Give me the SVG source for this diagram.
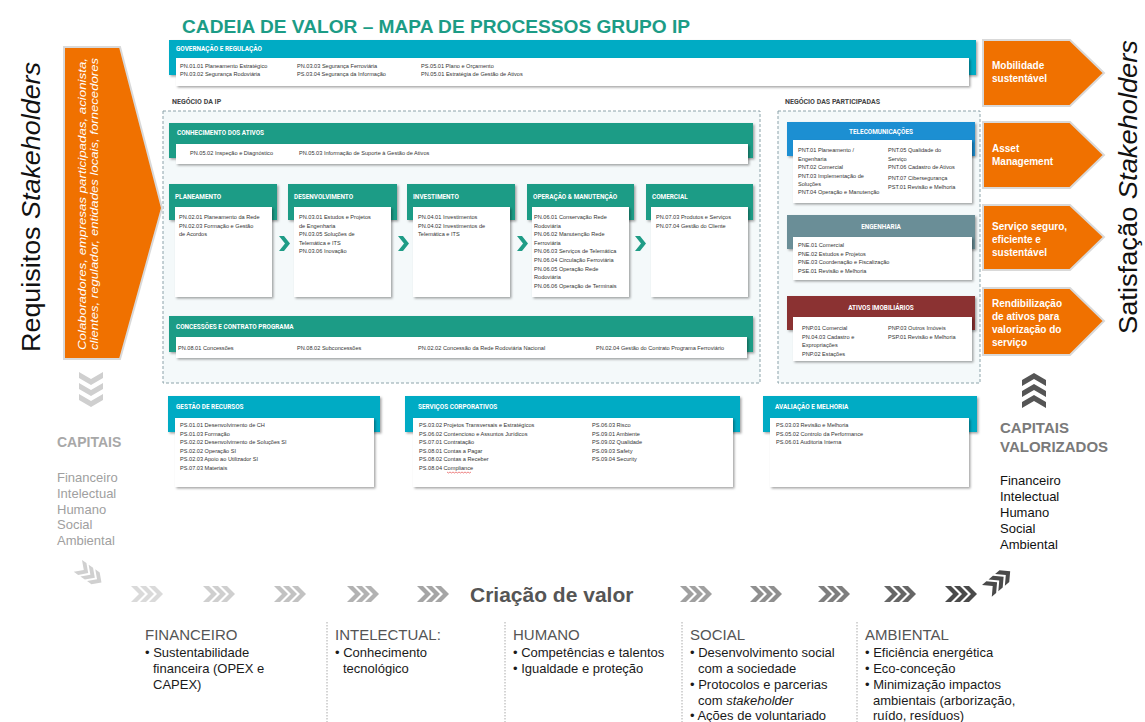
<svg xmlns="http://www.w3.org/2000/svg" width="1145" height="722" viewBox="0 0 1145 722">
<defs>
<filter id="sh" x="-5%" y="-20%" width="115%" height="150%"><feDropShadow dx="1.5" dy="1.5" stdDeviation="1" flood-color="#000" flood-opacity="0.35"/></filter>
<path id="chv" d="M0,0 h6 l8,8 l-8,8 h-6 l8,-8 z"/>
<g id="chev3"><use href="#chv"/><use href="#chv" x="9"/><use href="#chv" x="18"/></g>
<path id="dchv" d="M0,0 l12,7 l12,-7 v6 l-12,7 l-12,-7 z"/>
<path id="uchv" d="M0,13 l12,-7 l12,7 v-6 l-12,-7 l-12,7 z"/>
<path id="tchev" d="M0,0 h5 l6,7.5 l-6,7.5 h-5 l6,-7.5 z"/>
</defs>
<style>
.t{font-family:"Liberation Sans",Arial,sans-serif;font-size:5.6px;fill:#333}
.h{font-family:Roboto,"Liberation Sans",sans-serif;font-weight:bold;font-size:6.4px;fill:#fff}
.sec{font-family:Roboto,"Liberation Sans",sans-serif;font-weight:bold;font-size:7px;fill:#444}
.g{fill:#1f9c86}
.c{fill:#03abc4}
.w{fill:#fff;filter:url(#sh)}
.bar{filter:url(#sh)}
.or{fill:#f07100;stroke:#d9d9d9;stroke-width:2}
.ot{font-family:"Liberation Sans",Arial,sans-serif;font-weight:bold;font-size:10px;fill:#fff}
.big{font-family:"Liberation Sans",Arial,sans-serif;font-size:26px;fill:#111}
.cap{font-family:"Liberation Sans",Arial,sans-serif;font-size:13px}
.bh{font-family:"Liberation Sans",Arial,sans-serif;font-size:15px;fill:#555}
.bl{font-family:"Liberation Sans",Arial,sans-serif;font-size:13px;fill:#1a1a1a}
.dash{fill:#f4f9fa;stroke:#8ca3aa;stroke-width:1;stroke-dasharray:3,2}
.sep{stroke:#aaa;stroke-width:1;stroke-dasharray:1.5,1.5}
.oi{font-family:"Liberation Sans",Arial,sans-serif;font-style:italic;font-size:10px;fill:#fff}
</style>
<rect width="1145" height="722" fill="#fff"/>

<text x="182" y="33" font-family="'Liberation Sans',Arial,sans-serif" font-weight="bold" font-size="19" fill="#1c9c86" textLength="508" lengthAdjust="spacingAndGlyphs">CADEIA DE VALOR – MAPA DE PROCESSOS GRUPO IP</text>

<g id="governacao">
<rect class="c bar" x="169" y="40" width="807" height="35"/>
<rect class="w" x="176" y="58" width="793" height="28"/>
<text class="h" x="176" y="51">GOVERNAÇÃO E REGULAÇÃO</text>
<text class="t" x="180" y="68">PN.01.01  Planeamento Estratégico</text>
<text class="t" x="180" y="76">PN.03.02  Segurança Rodoviária</text>
<text class="t" x="297" y="68">PN.03.03  Segurança Ferroviária</text>
<text class="t" x="297" y="76">PS.03.04  Segurança da Informação</text>
<text class="t" x="421" y="68">PS.05.01  Plano e Orçamento</text>
<text class="t" x="421" y="76">PN.05.01  Estratégia de Gestão de Ativos</text>
</g>

<g id="negocio-ip">
<text class="sec" x="172" y="104">NEGÓCIO DA IP</text>
<rect class="dash" x="163" y="111" width="597" height="272"/>
</g>

<g id="conhecimento">
<rect class="g bar" x="169" y="123" width="584" height="35"/>
<rect class="w" x="176" y="144" width="572" height="20"/>
<text class="h" x="177" y="135">CONHECIMENTO DOS ATIVOS</text>
<text class="t" x="190" y="155">PN.05.02  Inspeção e Diagnóstico</text>
<text class="t" x="299" y="155">PN.05.03  Informação de Suporte à Gestão de Ativos</text>
</g>

<g id="planeamento">
<rect class="g bar" x="169" y="184" width="108" height="36"/>
<rect class="w" x="175" y="207" width="97" height="90"/>
<text class="h" x="175" y="199">PLANEAMENTO</text>
<text class="t" x="179" y="219">PN.02.01  Planeamento da Rede</text>
<text class="t" x="179" y="227.5">PN.02.03  Formação e Gestão</text>
<text class="t" x="179" y="236">de Acordos</text>
</g>

<g id="desenvolvimento">
<rect class="g bar" x="288" y="184" width="109" height="36"/>
<rect class="w" x="294" y="207" width="97" height="90"/>
<text class="h" x="294" y="199">DESENVOLVIMENTO</text>
<text class="t" x="299" y="219">PN.03.01  Estudos e Projetos</text>
<text class="t" x="299" y="227.5">de Engenharia</text>
<text class="t" x="299" y="236">PN.03.05  Soluções de</text>
<text class="t" x="299" y="244.5">Telemática e ITS</text>
<text class="t" x="299" y="253">PN.03.06  Inovação</text>
</g>

<g id="investimento">
<rect class="g bar" x="407" y="184" width="108" height="36"/>
<rect class="w" x="413" y="207" width="97" height="90"/>
<text class="h" x="413" y="199">INVESTIMENTO</text>
<text class="t" x="418" y="219">PN.04.01  Investimentos</text>
<text class="t" x="418" y="227.5">PN.04.02  Investimentos de</text>
<text class="t" x="418" y="236">Telemática e ITS</text>
</g>

<g id="operacao">
<rect class="g bar" x="527" y="184" width="107" height="36"/>
<rect class="w" x="532" y="207" width="97" height="90"/>
<text class="h" x="533" y="199">OPERAÇÃO &amp; MANUTENÇÃO</text>
<text class="t" x="534" y="219">PN.06.01  Conservação Rede</text>
<text class="t" x="534" y="227.6">Rodoviária</text>
<text class="t" x="534" y="236.2">PN.06.02  Manutenção Rede</text>
<text class="t" x="534" y="244.8">Ferroviária</text>
<text class="t" x="534" y="253.4">PN.06.03  Serviços de Telemática</text>
<text class="t" x="534" y="262">PN.06.04  Circulação Ferroviária</text>
<text class="t" x="534" y="270.6">PN.06.05  Operação Rede</text>
<text class="t" x="534" y="279.2">Rodoviária</text>
<text class="t" x="534" y="287.8">PN.06.06  Operação de Terminais</text>
</g>

<g id="comercial">
<rect class="g bar" x="646" y="184" width="107" height="36"/>
<rect class="w" x="651" y="207" width="97" height="90"/>
<text class="h" x="652" y="199">COMERCIAL</text>
<text class="t" x="656" y="219">PN.07.03  Produtos e Serviços</text>
<text class="t" x="656" y="227.5">PN.07.04  Gestão do Cliente</text>
</g>

<g id="concessoes">
<rect class="g bar" x="169" y="316" width="584" height="36"/>
<rect class="w" x="176" y="337" width="571" height="21"/>
<text class="h" x="176" y="329">CONCESSÕES E CONTRATO PROGRAMA</text>
<text class="t" x="178" y="350">PN.08.01  Concessões</text>
<text class="t" x="297" y="350">PN.08.02  Subconcessões</text>
<text class="t" x="418" y="350">PN.02.02  Concessão da Rede Rodoviária Nacional</text>
<text class="t" x="596" y="350">PN.02.04  Gestão do Contrato Programa Ferroviário</text>
</g>

<g id="negocio-participadas">
<text class="sec" x="785" y="104">NEGÓCIO DAS PARTICIPADAS</text>
<rect class="dash" x="778" y="111" width="202" height="272"/>
</g>

<g id="telecomunicacoes">
<rect class="bar" fill="#1a8fd2" x="787" y="122" width="188" height="34"/>
<rect class="w" x="793" y="140" width="179" height="63"/>
<text class="h" x="881" y="134" text-anchor="middle">TELECOMUNICAÇÕES</text>
<text class="t" x="798" y="152">PNT.01 Planeamento /</text>
<text class="t" x="798" y="160.5">Engenharia</text>
<text class="t" x="798" y="169">PNT.02 Comercial</text>
<text class="t" x="798" y="177.5">PNT.03 Implementação de</text>
<text class="t" x="798" y="186">Soluções</text>
<text class="t" x="798" y="193.5">PNT.04 Operação e Manutenção</text>
<text class="t" x="888" y="152">PNT.05 Qualidade do</text>
<text class="t" x="888" y="160.5">Serviço</text>
<text class="t" x="888" y="169">PNT.06 Cadastro de Ativos</text>
<text class="t" x="888" y="180">PNT.07 Cibersegurança</text>
<text class="t" x="888" y="189">PST.01 Revisão e Melhoria</text>
</g>

<g id="engenharia">
<rect class="bar" fill="#6a8e97" x="787" y="215" width="188" height="34"/>
<rect class="w" x="793" y="237" width="179" height="43"/>
<text class="h" x="881" y="229" text-anchor="middle">ENGENHARIA</text>
<text class="t" x="798" y="247">PNE.01 Comercial</text>
<text class="t" x="798" y="255.5">PNE.02 Estudos e Projetos</text>
<text class="t" x="798" y="264">PNE.03 Coordenação e Fiscalização</text>
<text class="t" x="798" y="272.5">PSE.01 Revisão e Melhoria</text>
</g>

<g id="ativos-imobiliarios">
<rect class="bar" fill="#8b3333" x="787" y="296" width="188" height="34"/>
<rect class="w" x="793" y="317" width="179" height="44"/>
<text class="h" x="881" y="310" text-anchor="middle">ATIVOS IMOBILIÁRIOS</text>
<text class="t" x="802" y="330">PNP.01  Comercial</text>
<text class="t" x="802" y="338.5">PN.04.03 Cadastro e</text>
<text class="t" x="802" y="347">Expropriações</text>
<text class="t" x="802" y="355.5">PNP.02 Estações</text>
<text class="t" x="888" y="330">PNP.03  Outros Imóveis</text>
<text class="t" x="888" y="338.5">PSP.01  Revisão e Melhoria</text>
</g>

<g id="gestao-recursos">
<rect class="c bar" x="168" y="396" width="212" height="36"/>
<rect class="w" x="175" y="418" width="199" height="69"/>
<text class="h" x="176" y="409">GESTÃO DE RECURSOS</text>
<text class="t" x="180" y="427">PS.01.01  Desenvolvimento de CH</text>
<text class="t" x="180" y="435.6">PS.01.03  Formação</text>
<text class="t" x="180" y="444.2">PS.02.02  Desenvolvimento de Soluções SI</text>
<text class="t" x="180" y="452.8">PS.02.02  Operação SI</text>
<text class="t" x="180" y="461.4">PS.02.03  Apoio ao Utilizador SI</text>
<text class="t" x="180" y="470">PS.07.03  Materiais</text>
</g>

<g id="servicos-corporativos">
<rect class="c bar" x="405" y="396" width="335" height="36"/>
<rect class="w" x="413" y="418" width="320" height="69"/>
<text class="h" x="418" y="409">SERVIÇOS CORPORATIVOS</text>
<text class="t" x="419" y="427">PS.03.02  Projetos Transversais e Estratégicos</text>
<text class="t" x="419" y="435.6">PS.06.02  Contencioso e Assuntos Jurídicos</text>
<text class="t" x="419" y="444.2">PS.07.01  Contratação</text>
<text class="t" x="419" y="452.8">PS.08.01  Contas a Pagar</text>
<text class="t" x="419" y="461.4">PS.08.02  Contas a Receber</text>
<text class="t" x="419" y="470">PS.08.04  Compliance</text>
<path d="M447,472 l1.5,1 l1.5,-1 l1.5,1 l1.5,-1 l1.5,1 l1.5,-1 l1.5,1 l1.5,-1 l1.5,1 l1.5,-1 l1.5,1 l1.5,-1 l1.5,1 l1.5,-1 l1.5,1 l1.5,-1" fill="none" stroke="#e03030" stroke-width="0.6"/>
<text class="t" x="592" y="427">PS.06.03  Risco</text>
<text class="t" x="592" y="435.6">PS.09.01  Ambiente</text>
<text class="t" x="592" y="444.2">PS.09.02  Qualidade</text>
<text class="t" x="592" y="452.8">PS.09.03  Safety</text>
<text class="t" x="592" y="461.4">PS.09.04  Security</text>
</g>

<g id="avaliacao-melhoria">
<rect class="c bar" x="763" y="396" width="214" height="36"/>
<rect class="w" x="770" y="418" width="199" height="69"/>
<text class="h" x="775" y="409">AVALIAÇÃO E MELHORIA</text>
<text class="t" x="776" y="427">PS.03.03  Revisão e Melhoria</text>
<text class="t" x="776" y="435.6">PS.05.02  Controlo da Performance</text>
<text class="t" x="776" y="444.2">PS.06.01  Auditoria Interna</text>
</g>

<g id="requisitos">
<text class="big" transform="translate(40,352) rotate(-90)" textLength="290" lengthAdjust="spacingAndGlyphs">Requisitos <tspan font-style="italic">Stakeholders</tspan></text>
<polygon class="or" points="64,47 120,47 162,208 120,359 64,359"/>
<text class="oi" transform="translate(86,350) rotate(-90)" textLength="292" lengthAdjust="spacingAndGlyphs">Colaboradores, empresas participadas, acionista,</text>
<text class="oi" transform="translate(98,350) rotate(-90)" textLength="292" lengthAdjust="spacingAndGlyphs">clientes, regulador, entidades locais, fornecedores</text>
</g>

<g id="capitais" fill="#cfcfcf">
<use href="#dchv" x="79" y="372"/><use href="#dchv" x="79" y="383"/><use href="#dchv" x="79" y="394"/>
<text x="57" y="447" font-family="'Liberation Sans',Arial,sans-serif" font-weight="bold" font-size="14" fill="#a8a8a8">CAPITAIS</text>
<text class="cap" fill="#a0a0a0"><tspan x="57" y="482">Financeiro</tspan><tspan x="57" y="498">Intelectual</tspan><tspan x="57" y="513.5">Humano</tspan><tspan x="57" y="529">Social</tspan><tspan x="57" y="545">Ambiental</tspan></text>
</g>

<g id="satisfacao">
<text class="big" transform="translate(1137,334) rotate(-90)" textLength="294" lengthAdjust="spacingAndGlyphs">Satisfação <tspan font-style="italic">Stakeholders</tspan></text>
</g>

<g id="mobilidade">
<polygon class="or" points="983,40 1070,40 1104,73 1070,106 983,106"/>
<text class="ot"><tspan x="992" y="69">Mobilidade</tspan><tspan x="992" y="82">sustentável</tspan></text>
</g>
<g id="asset-management">
<polygon class="or" points="983,122 1070,122 1104,155 1070,188 983,188"/>
<text class="ot"><tspan x="992" y="152">Asset</tspan><tspan x="992" y="165">Management</tspan></text>
</g>
<g id="servico-seguro">
<polygon class="or" points="983,205 1070,205 1104,237 1070,270 983,270"/>
<text class="ot"><tspan x="992" y="230">Serviço seguro,</tspan><tspan x="992" y="243">eficiente e</tspan><tspan x="992" y="256">sustentável</tspan></text>
</g>
<g id="rendibilizacao">
<polygon class="or" points="983,288 1070,288 1104,321 1070,355 983,355"/>
<text class="ot"><tspan x="992" y="307">Rendibilização</tspan><tspan x="992" y="320">de ativos para</tspan><tspan x="992" y="333">valorização do</tspan><tspan x="992" y="346">serviço</tspan></text>
</g>

<g id="capitais-valorizados" fill="#555">
<use href="#uchv" x="1022" y="373"/><use href="#uchv" x="1022" y="384"/><use href="#uchv" x="1022" y="395"/>
<text font-family="'Liberation Sans',Arial,sans-serif" font-weight="bold" font-size="15" fill="#7a7a7a"><tspan x="1000" y="433">CAPITAIS</tspan><tspan x="1000" y="452">VALORIZADOS</tspan></text>
<text class="cap" fill="#111"><tspan x="1000" y="485">Financeiro</tspan><tspan x="1000" y="501">Intelectual</tspan><tspan x="1000" y="517">Humano</tspan><tspan x="1000" y="533">Social</tspan><tspan x="1000" y="549">Ambiental</tspan></text>
</g>

<g id="connectors">
<use href="#tchev" x="279" y="236" fill="#1f9c86"/>
<use href="#tchev" x="398" y="236" fill="#1f9c86"/>
<use href="#tchev" x="517" y="236" fill="#1f9c86"/>
<use href="#tchev" x="635" y="236" fill="#1f9c86"/>
</g>

<g id="criacao-valor">
<g fill="#d0d0d0" transform="translate(82,560) rotate(35)"><use href="#chev3" transform="scale(0.9)"/></g>
<use href="#chev3" x="131" y="586" fill="#dadada"/>
<use href="#chev3" x="203" y="586" fill="#cfcfcf"/>
<use href="#chev3" x="274" y="586" fill="#c2c2c2"/>
<use href="#chev3" x="347" y="586" fill="#b2b2b2"/>
<use href="#chev3" x="417" y="586" fill="#a5a5a5"/>
<text x="470" y="602" font-family="'Liberation Sans',Arial,sans-serif" font-weight="bold" font-size="21" fill="#555">Criação de valor</text>
<use href="#chev3" x="680" y="586" fill="#a0a0a0"/>
<use href="#chev3" x="750" y="586" fill="#8f8f8f"/>
<use href="#chev3" x="818" y="586" fill="#7e7e7e"/>
<use href="#chev3" x="884" y="586" fill="#666"/>
<use href="#chev3" x="945" y="586" fill="#4a4a4a"/>
<g fill="#4a4a4a" transform="translate(982,585) rotate(-40)"><use href="#chev3" transform="scale(0.95)"/></g>
</g>

<g id="separadores">
<line class="sep" x1="327" y1="622" x2="327" y2="722"/>
<line class="sep" x1="505" y1="622" x2="505" y2="722"/>
<line class="sep" x1="682" y1="622" x2="682" y2="722"/>
<line class="sep" x1="857" y1="622" x2="857" y2="722"/>
</g>

<g id="financeiro">
<text class="bh" x="145" y="640">FINANCEIRO</text>
<text class="bl"><tspan x="145" y="657">• Sustentabilidade</tspan><tspan x="153" y="673">financeira (OPEX e</tspan><tspan x="153" y="689">CAPEX)</tspan></text>
</g>
<g id="intelectual">
<text class="bh" x="335" y="640">INTELECTUAL:</text>
<text class="bl"><tspan x="335" y="657">• Conhecimento</tspan><tspan x="343" y="673">tecnológico</tspan></text>
</g>
<g id="humano">
<text class="bh" x="513" y="640">HUMANO</text>
<text class="bl"><tspan x="513" y="657">• Competências e talentos</tspan><tspan x="513" y="673">• Igualdade e proteção</tspan></text>
</g>
<g id="social">
<text class="bh" x="690" y="640">SOCIAL</text>
<text class="bl"><tspan x="690" y="657">• Desenvolvimento social</tspan><tspan x="698" y="673">com a sociedade</tspan><tspan x="690" y="689">• Protocolos e parcerias</tspan><tspan x="698" y="705">com <tspan font-style="italic">stakeholder</tspan></tspan><tspan x="690" y="720">• Ações de voluntariado</tspan></text>
</g>
<g id="ambiental">
<text class="bh" x="865" y="640">AMBIENTAL</text>
<text class="bl"><tspan x="865" y="657">• Eficiência energética</tspan><tspan x="865" y="673">• Eco-conceção</tspan><tspan x="865" y="689">• Minimização impactos</tspan><tspan x="873" y="705">ambientais (arborização,</tspan><tspan x="873" y="720">ruído, resíduos)</tspan></text>
</g>
</svg>
